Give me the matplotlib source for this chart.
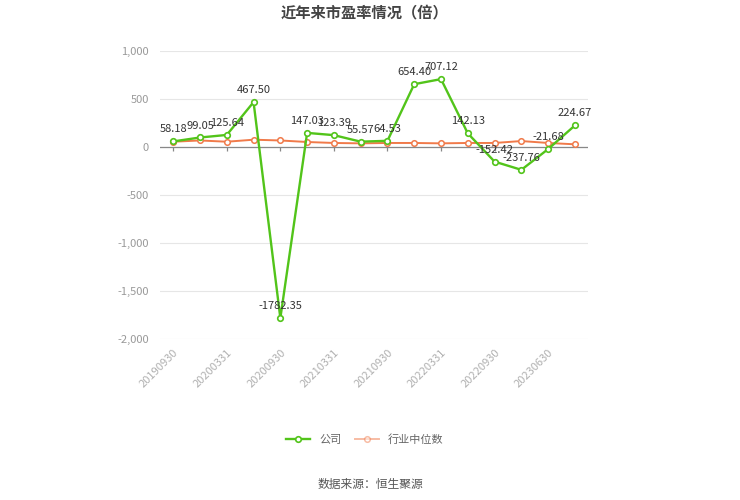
import matplotlib.pyplot as plt
import numpy as np

plt.rcParams['font.family'] = ['Noto Sans CJK SC', 'DejaVu Sans']

dates = ['20190930', '20191231', '20200331', '20200630', '20200930', '20201231',
         '20210331', '20210630', '20210930', '20211231', '20220331', '20220630',
         '20220930', '20221231', '20230630', '20230930']
company = [58.18, 99.05, 125.64, 467.50, -1782.35, 147.03, 123.39, 55.57,
           64.53, 654.40, 707.12, 142.13, -152.42, -237.76, -21.68, 224.67]
industry = [55, 68, 55, 76, 68, 52, 42, 38, 42, 42, 38, 42, 42, 62, 42, 28]

green = '#52c41a'
orange = '#f07a4a'

fig = plt.figure(figsize=(7.4, 5), dpi=100)
ax = fig.add_axes([0.216, 0.322, 0.579, 0.576])

x = np.arange(len(dates))

ax.plot(x, industry, color=orange, linewidth=1.4, marker='o', markersize=4,
        markerfacecolor='white', markeredgecolor=orange, markeredgewidth=1.1, zorder=3)
ax.plot(x, company, color=green, linewidth=1.7, marker='o', markersize=4,
        markerfacecolor='white', markeredgecolor=green, markeredgewidth=1.2, zorder=4)

for xi, v in zip(x, company):
  ax.annotate(f'{v:.2f}', (xi, v), xytext=(0, 5), textcoords='offset points',
              ha='center', va='bottom', fontsize=8, color='#333333', zorder=5)

ax.set_xlim(-0.5, len(dates) - 0.5)
ax.set_ylim(-2000, 1000)
ax.set_yticks([-2000, -1500, -1000, -500, 0, 500, 1000])
ax.set_yticklabels([f'{t:,}' for t in [-2000, -1500, -1000, -500, 0, 500, 1000]])
ax.grid(axis='y', color='#e6e6e6', linewidth=0.8)
ax.set_axisbelow(True)
ax.axhline(0, color='#888888', linewidth=0.9, zorder=2)

# tick marks hanging below the zero line
ax.vlines(x[::2], -45, 0, color='#888888', linewidth=0.9, zorder=2)

ax.set_xticks(x[::2])
ax.set_xticklabels(dates[::2], rotation=45, ha='right', rotation_mode='anchor')
ax.tick_params(axis='x', length=0, colors='#b0b0b0', labelsize=8, pad=6)
ax.tick_params(axis='y', length=0, colors='#999999', labelsize=8, pad=8)
for s in ax.spines.values():
  s.set_visible(False)

fig.text(0.493, 0.975, '近年来市盈率情况（倍）', ha='center', va='center',
         fontsize=11, fontweight='bold', color='#444444')

leg = ax.legend(handles=[ax.lines[1], ax.lines[0]], labels=['公司', '行业中位数'],
                loc='center', bbox_to_anchor=(0.493, 0.12), bbox_transform=fig.transFigure,
                ncol=2, frameon=False, fontsize=8, handlelength=2.2, columnspacing=1.2,
                labelcolor='#666666')
leg.legend_handles[1].set_alpha(0.5)

fig.text(0.5, 0.032, '数据来源：恒生聚源', ha='center', va='center',
         fontsize=8.5, color='#555555')

fig.savefig('out.png', dpi=100)
